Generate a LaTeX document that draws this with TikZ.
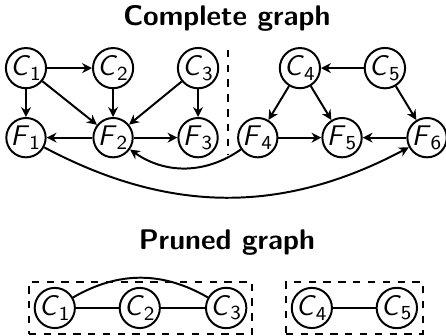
\documentclass[tikz,border=0pt]{standalone}
\usepackage{amsmath,amssymb}
\usepackage{tikz}
\usetikzlibrary{fit,arrows.meta}

% variable label in sans italic with a sans subscript
\newcommand{\var}[2]{\textsf{\textit{#1}}$_{\textsf{#2}}$}

\begin{document}
\begin{tikzpicture}[scale=1.0,>={Stealth[length=4pt,width=4pt]},
  vert/.style={draw,thick,circle,inner sep=0pt,minimum size=0.56cm,
    font=\fontsize{11.5}{13}\selectfont\sffamily},
  edge/.style={thick,->},
  link/.style={thick},
  title/.style={font=\fontsize{11.5}{13}\selectfont\sffamily\bfseries}]
\useasboundingbox (0,0) rectangle (6.35,4.77);

% complete graph
\node[title] (t1) at (3.23,4.51) {Complete graph};
\node[vert] (C1) at (0.37,3.80) {\var{C}{1}};
\node[vert] (C2) at (1.61,3.80) {\var{C}{2}};
\node[vert] (C3) at (2.82,3.80) {\var{C}{3}};
\node[vert] (F1) at (0.37,2.81) {\var{F}{1}};
\node[vert] (F2) at (1.61,2.81) {\var{F}{2}};
\node[vert] (F3) at (2.82,2.81) {\var{F}{3}};
\node[vert] (C4) at (4.27,3.80) {\var{C}{4}};
\node[vert] (C5) at (5.48,3.80) {\var{C}{5}};
\node[vert] (F4) at (3.67,2.81) {\var{F}{4}};
\node[vert] (F5) at (4.87,2.81) {\var{F}{5}};
\node[vert] (F6) at (6.08,2.81) {\var{F}{6}};
\coordinate (s1) at (3.25,4.06);
\coordinate (s2) at (3.25,2.56);
\draw[thick,dashed] (s1) -- (s2);

\draw[edge] (C1) -- (C2);
\draw[edge] (C1) -- (F1);
\draw[edge] (C1) -- (F2);
\draw[edge] (C2) -- (F2);
\draw[edge] (C3) -- (F2);
\draw[edge] (C3) -- (F3);
\draw[edge] (F2) -- (F1);
\draw[edge] (F2) -- (F3);
\draw[edge] (C5) -- (C4);
\draw[edge] (C4) -- (F4);
\draw[edge] (C4) -- (F5);
\draw[edge] (C5) -- (F6);
\draw[edge] (F4) -- (F5);
\draw[edge] (F6) -- (F5);
\draw[edge] (F4) to[bend left=35] (F2);
\draw[edge] (F1) to[bend right=28] (F6);

% pruned graph
\node[title] (t2) at (3.23,1.32) {Pruned graph};
\node[vert] (P1) at (0.78,0.385) {\var{C}{1}};
\node[vert] (P2) at (1.99,0.385) {\var{C}{2}};
\node[vert] (P3) at (3.22,0.385) {\var{C}{3}};
\node[vert] (P4) at (4.44,0.385) {\var{C}{4}};
\node[vert] (P5) at (5.65,0.385) {\var{C}{5}};
\draw[link] (P1) -- (P2);
\draw[link] (P2) -- (P3);
\draw[link] (P1) to[bend left=30] (P3);
\draw[link] (P4) -- (P5);
\node[draw,thick,dashed,inner sep=2pt,fit=(P1)(P3)] (b1) {};
\node[draw,thick,dashed,inner sep=2pt,fit=(P4)(P5)] (b2) {};
\end{tikzpicture}
\end{document}
